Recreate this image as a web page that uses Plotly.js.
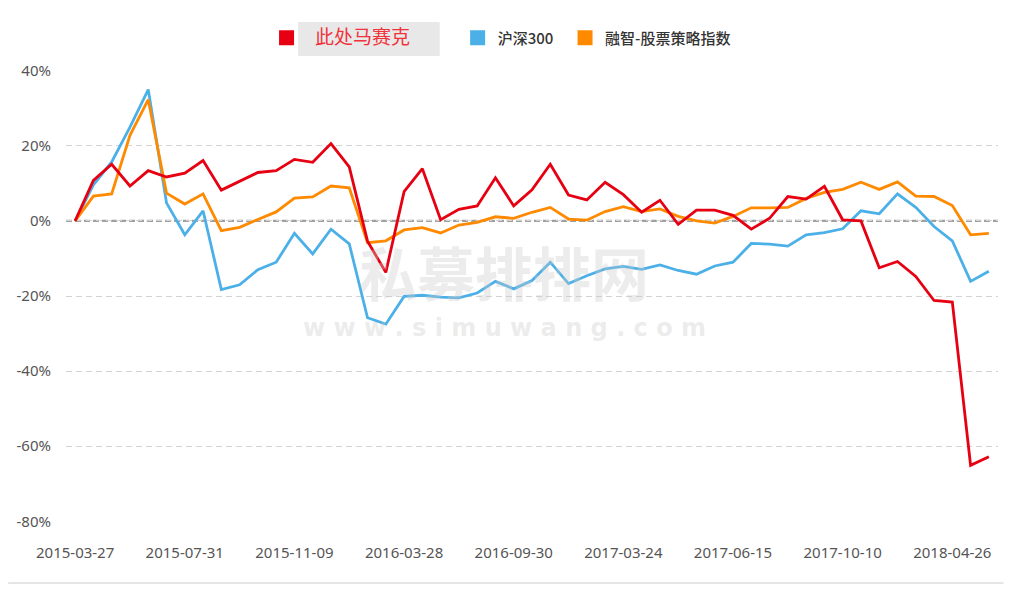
<!DOCTYPE html>
<html>
<head>
<meta charset="utf-8">
<script src="https://cdn.plot.ly/plotly-3.0.1.min.js"></script>
<style>html,body{margin:0;padding:0;background:#fff;}#chart{width:1012px;height:592px;}</style>
</head>
<body>
<div id="chart"></div>
<script>
const dates = ["2015-03-27","2015-04-17","2015-05-08","2015-05-29","2015-06-19","2015-07-10",
"2015-07-31","2015-08-14","2015-08-28","2015-09-18","2015-10-09","2015-10-23",
"2015-11-09","2015-11-30","2015-12-21","2016-01-11","2016-02-01","2016-03-07",
"2016-03-28","2016-04-29","2016-05-31","2016-06-30","2016-07-29","2016-08-31",
"2016-09-30","2016-10-31","2016-11-30","2016-12-30","2017-01-26","2017-02-24",
"2017-03-24","2017-04-07","2017-04-21","2017-05-05","2017-05-19","2017-06-02",
"2017-06-15","2017-07-07","2017-07-28","2017-08-18","2017-09-08","2017-09-22",
"2017-10-10","2017-11-10","2017-12-08","2018-01-12","2018-02-09","2018-03-16",
"2018-04-26","2018-05-25","2018-06-29"];

const tickDates = ["2015-03-27","2015-07-31","2015-11-09","2016-03-28","2016-09-30","2017-03-24","2017-06-15","2017-10-10","2018-04-26"];

const fundName = "此处马赛克";
const fund = [0,10.8,15.1,9.3,13.4,11.7,12.7,16.1,8.2,10.6,12.9,13.4,
16.4,15.6,20.6,14.4,-5.4,-13.7,7.8,13.9,0.3,3.1,4.0,11.5,
4.0,8.3,15.1,6.9,5.6,10.3,7.0,2.3,5.5,-0.9,2.9,2.9,
1.5,-2.2,0.7,6.5,5.8,9.2,0.3,0.0,-12.5,-10.8,-14.8,-21.2,
-21.6,-65.1,-62.8];

const hs300Name = "沪深300";
const hs300 = [0,9.6,15.7,25.0,35.0,4.8,-3.7,2.7,-18.3,-17.0,-13.0,-11.0,
-3.3,-8.8,-2.2,-6.1,-25.8,-27.5,-20.1,-19.8,-20.3,-20.5,-19.2,-16.1,
-18.1,-15.9,-11.0,-16.7,-14.6,-12.8,-12.1,-12.9,-11.7,-13.2,-14.2,-12.0,
-11.0,-6.0,-6.2,-6.7,-3.7,-3.1,-2.1,2.7,1.9,7.2,3.6,-1.5,
-5.3,-16.1,-13.4];

const idxName = "融智-股票策略指数";
const idx = [0,6.6,7.2,22.8,32.3,7.4,4.5,7.2,-2.6,-1.7,0.4,2.4,
6.1,6.4,9.3,8.8,-5.8,-5.3,-2.4,-1.8,-3.2,-1.1,-0.4,1.1,
0.7,2.3,3.6,0.5,0.2,2.5,3.8,2.5,3.2,1.2,0.0,-0.6,
1.2,3.5,3.5,3.6,6.0,7.6,8.4,10.3,8.4,10.4,6.6,6.5,
4.1,-3.7,-3.3];

const yTicks = [-80,-60,-40,-20,0,20,40];
const yTickText = ["-80%","-60%","-40%","-20%","0%","20%","40%"];

const cRed = "#e60012", cBlue = "#4cb0e8", cOrange = "#ff8a00";
const NB = "\u00a0";

function lineTrace(y, color) {
  return {x: dates, y: y, type: "scatter", mode: "lines", showlegend: false,
    line: {color: color, width: 2.8}, hoverinfo: "x+y"};
}
function legendTrace(name, color) {
  return {x: [dates[0]], y: [null], type: "scatter", mode: "markers", name: name,
    marker: {symbol: "square", size: 15, color: color}};
}

const data = [
  lineTrace(hs300, cBlue),
  lineTrace(idx, cOrange),
  lineTrace(fund, cRed),
  legendTrace('<span style="color:#f0323c;font-size:19px;font-weight:normal">' + NB + NB + fundName + NB.repeat(10) + '</span>', cRed),
  legendTrace(hs300Name + NB + NB, cBlue),
  legendTrace(idxName, cOrange)
];

const layout = {
  width: 1012, height: 592,
  margin: {l: 66, r: 14, t: 70, b: 70},
  paper_bgcolor: "#fff", plot_bgcolor: "#fff",
  font: {family: "Noto Sans CJK SC, Noto Sans, sans-serif", color: "#555", size: 15},
  showlegend: true,
  legend: {orientation: "h", x: 0.4668, xanchor: "center", y: 1.071, yanchor: "middle",
    font: {size: 15, color: "#333", family: "Noto Sans CJK SC, sans-serif", weight: 500},
    bgcolor: "rgba(0,0,0,0)", itemclick: false},
  xaxis: {type: "category", range: [-0.5, 50.5], tickmode: "array", tickvals: tickDates, ticktext: tickDates,
    showgrid: false, zeroline: false, showline: false, ticks: "", ticklabelstandoff: 20,
    tickfont: {family: "Noto Sans, sans-serif", size: 15, color: "#555"}},
  yaxis: {range: [-80.2, 40.2], tickmode: "array", tickvals: yTicks, ticktext: yTickText,
    showgrid: true, gridcolor: "#d3d3d3", gridwidth: 1, griddash: "6px,4px",
    zeroline: false, showline: false, ticks: "", ticklabelstandoff: 14,
    tickfont: {family: "Noto Sans, sans-serif", size: 15, color: "#555"}},
  shapes: [
    {type: "rect", xref: "paper", yref: "paper", x0: 0.249, x1: 0.401, y0: 1.031, y1: 1.106,
      fillcolor: "#e4e4e4", line: {width: 0}, opacity: 0.85, layer: "below"},
    {type: "line", xref: "paper", yref: "y", x0: 0, x1: 1, y0: 0, y1: 0,
      line: {color: "#a0a0a0", width: 2.2, dash: "6px,3px"}, layer: "below"},
    {type: "line", xref: "paper", yref: "paper", x0: -0.062, x1: 1.006, y0: -0.135, y1: -0.135,
      line: {color: "#cccccc", width: 1}}
  ],
  annotations: [
    {text: "<b>私募排排网</b>", xref: "paper", yref: "paper", x: 0.47, y: 0.555, showarrow: false,
      font: {size: 58, color: "rgba(200,200,200,0.35)", family: "Noto Sans CJK SC"}},
    {text: "<b>w w w . s i m u w a n g . c o m</b>", xref: "paper", yref: "paper", x: 0.47, y: 0.43, showarrow: false,
      font: {size: 24, color: "rgba(200,200,200,0.35)", family: "DejaVu Sans"}}
  ]
};

Plotly.newPlot("chart", data, layout, {displayModeBar: false, staticPlot: true});
</script>
</body>
</html>
